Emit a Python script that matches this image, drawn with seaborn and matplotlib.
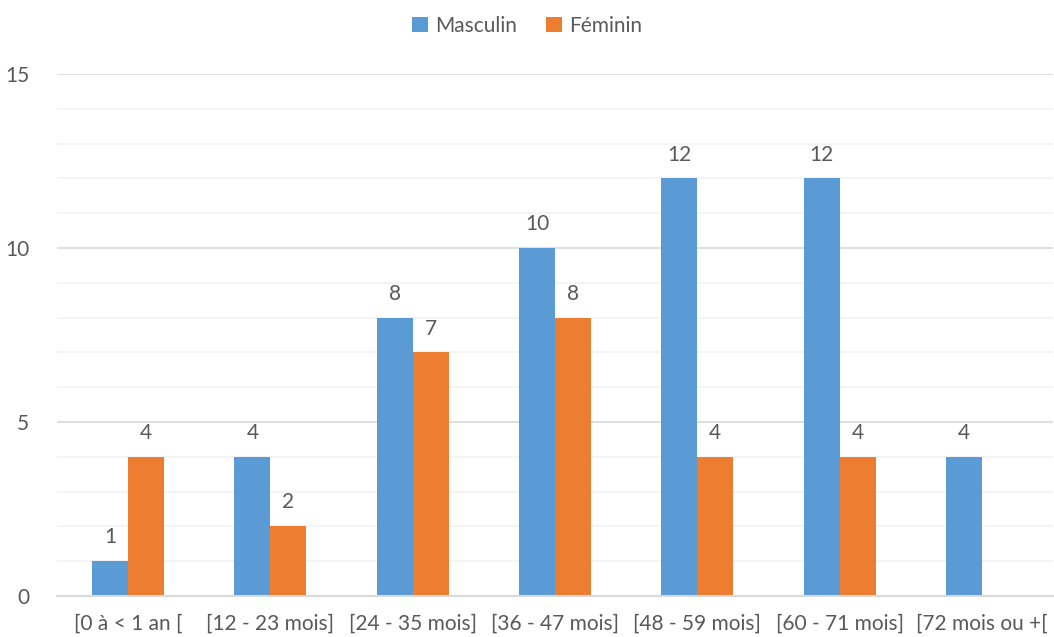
import numpy as np
import pandas as pd
import matplotlib
matplotlib.use("Agg")
import matplotlib.pyplot as plt
from matplotlib.ticker import MultipleLocator
import seaborn as sns

# Age groups and counts per sex
categories = ["[0 à < 1 an [", "[12 - 23 mois]", "[24 - 35 mois]", "[36 - 47 mois]",
              "[48 - 59 mois]", "[60 - 71 mois]", "[72 mois ou +["]
masculin = [1, 4, 8, 10, 12, 12, 4]
feminin = [4, 2, 7, 8, 4, 4, np.nan]
series_names = ["Masculin", "Féminin"]
colors = ["#5B9BD5", "#ED7D31"]
y_ticks = [0, 5, 10, 15]

df = pd.DataFrame({
    "Groupe": categories * 2,
    "Sexe": [series_names[0]] * len(categories) + [series_names[1]] * len(categories),
    "Effectif": masculin + feminin,
})

sns.set_theme(style="white")
plt.rcParams["font.family"] = ["Lato", "DejaVu Sans"]
text_color = "#595959"
fs = 15

fig = plt.figure(figsize=(10.54, 6.37), dpi=100)
ax = fig.add_axes([0.0541, 0.0644, 0.9449, 0.8194])

sns.barplot(data=df, x="Groupe", y="Effectif", hue="Sexe", order=categories,
            hue_order=series_names, palette=colors, width=0.506, saturation=1,
            linewidth=0, edgecolor="none", ax=ax, legend=True)

for cont in ax.containers:
    labels = ["" if np.isnan(b.get_height()) or b.get_height() == 0 else f"{b.get_height():g}"
              for b in cont]
    ax.bar_label(cont, labels=labels, padding=10, fontsize=fs, color=text_color)

ax.set_ylim(0, 15)
ax.set_xlim(-0.5, len(categories) - 0.5)
ax.set_yticks(y_ticks)
ax.yaxis.set_minor_locator(MultipleLocator(1))
ax.grid(axis="y", which="major", color="#d9d9d9", linewidth=1.2, zorder=0)
ax.grid(axis="y", which="minor", color="#f2f2f2", linewidth=1.2, zorder=0)
ax.set_axisbelow(True)
for side in ["left", "right", "top"]:
    ax.spines[side].set_visible(False)
ax.spines["bottom"].set_color("#d9d9d9")
ax.spines["bottom"].set_linewidth(1.5)
ax.tick_params(axis="both", which="both", length=0, labelsize=fs, colors=text_color)
ax.tick_params(axis="y", pad=20)
ax.tick_params(axis="x", pad=13)
ax.set_xlabel("")
ax.set_ylabel("")

handles, labels = ax.get_legend_handles_labels()
ax.legend(handles, labels, loc="upper center", bbox_to_anchor=(0.5, 1.005),
          bbox_transform=fig.transFigure, ncol=2, frameon=False, fontsize=fs,
          handlelength=0.75, handleheight=0.75, handletextpad=0.35, columnspacing=1.4,
          labelcolor=text_color)

fig.savefig("out.png", dpi=100)
